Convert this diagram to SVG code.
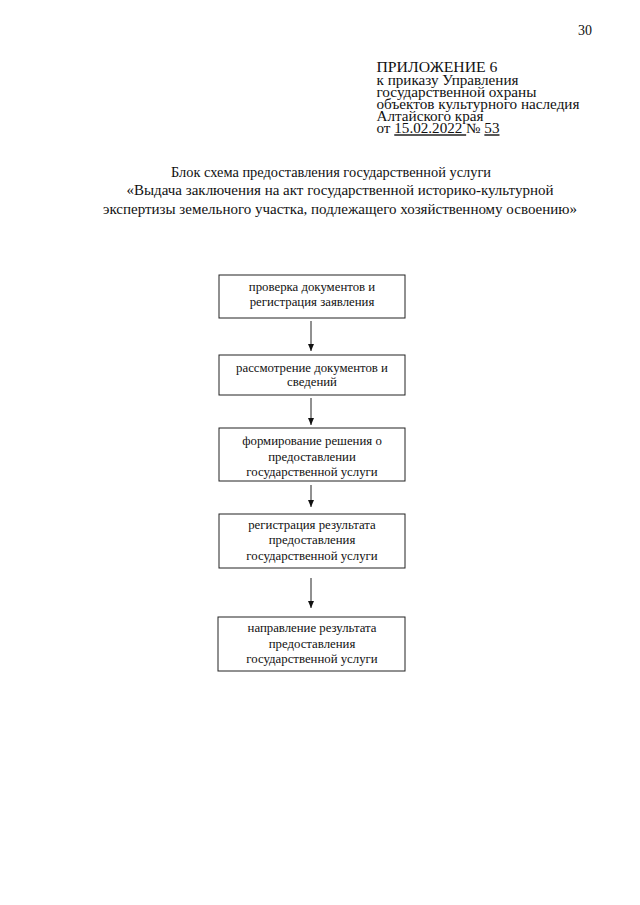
<svg xmlns="http://www.w3.org/2000/svg" width="640" height="905" viewBox="0 0 640 905">
<style>
  text { font-family: "Liberation Serif", "Times New Roman", serif; fill: #111; }
  .hdr { font-size: 14px; }
  .ttl { font-size: 15px; text-anchor: middle; }
  .box rect { fill: none; stroke: #222; stroke-width: 1; }
  .box text { font-size: 12.8px; text-anchor: middle; }
  .conn line { stroke: #222; stroke-width: 1; }
</style>
<defs>
  <marker id="ah" viewBox="0 0 7 6" refX="7" refY="3" markerWidth="7" markerHeight="6" markerUnits="userSpaceOnUse" orient="auto">
    <path d="M0,0 L7,3 L0,6 Z" fill="#111"/>
  </marker>
</defs>
<rect width="640" height="905" fill="#fff"/>
<text class="hdr" x="578" y="35">30</text>
<g id="header">
  <text class="hdr" x="376.5" y="72" textLength="121" lengthAdjust="spacingAndGlyphs">ПРИЛОЖЕНИЕ 6</text>
  <text class="hdr" x="376.5" y="84.5" textLength="142" lengthAdjust="spacingAndGlyphs">к приказу Управления</text>
  <text class="hdr" x="376.5" y="96.8" textLength="160" lengthAdjust="spacingAndGlyphs">государственной охраны</text>
  <text class="hdr" x="376.5" y="109" textLength="203" lengthAdjust="spacingAndGlyphs">объектов культурного наследия</text>
  <text class="hdr" x="376.5" y="121" textLength="107" lengthAdjust="spacingAndGlyphs">Алтайского края</text>
  <text class="hdr" x="376.5" y="133.3" textLength="123" lengthAdjust="spacingAndGlyphs">от <tspan text-decoration="underline">15.02.2022 </tspan>№ <tspan text-decoration="underline">53</tspan></text>
</g>
<g id="title">
  <text class="ttl" x="331" y="176.5" textLength="320" lengthAdjust="spacingAndGlyphs">Блок схема предоставления государственной услуги</text>
  <text class="ttl" x="340" y="195">«Выдача заключения на акт государственной историко-культурной</text>
  <text class="ttl" x="340" y="213.5">экспертизы земельного участка, подлежащего хозяйственному освоению»</text>
</g>
<g class="conn" id="connectors">
  <line x1="311" y1="321" x2="311" y2="351" marker-end="url(#ah)"/>
  <line x1="311" y1="398" x2="311" y2="425" marker-end="url(#ah)"/>
  <line x1="311" y1="485" x2="311" y2="507" marker-end="url(#ah)"/>
  <line x1="311" y1="578" x2="311" y2="608" marker-end="url(#ah)"/>
</g>
<g class="box" id="node1">
  <rect x="219" y="275" width="186" height="43"/>
  <text x="312" y="290.5">проверка документов и</text>
  <text x="312" y="305.5">регистрация заявления</text>
</g>
<g class="box" id="node2">
  <rect x="219" y="355" width="186" height="40"/>
  <text x="312" y="371.5">рассмотрение документов и</text>
  <text x="312" y="386">сведений</text>
</g>
<g class="box" id="node3">
  <rect x="219" y="428" width="186" height="53"/>
  <text x="312" y="445">формирование решения о</text>
  <text x="312" y="460.5">предоставлении</text>
  <text x="312" y="476">государственной услуги</text>
</g>
<g class="box" id="node4">
  <rect x="219" y="514" width="186" height="54"/>
  <text x="312" y="528.5">регистрация результата</text>
  <text x="312" y="544">предоставления</text>
  <text x="312" y="559.5">государственной услуги</text>
</g>
<g class="box" id="node5">
  <rect x="218" y="617" width="187" height="54"/>
  <text x="312" y="632">направление результата</text>
  <text x="312" y="647.5">предоставления</text>
  <text x="312" y="663">государственной услуги</text>
</g>
</svg>
